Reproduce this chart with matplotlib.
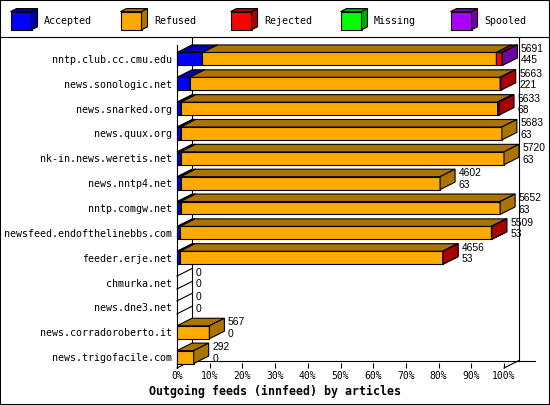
import numpy as np
import matplotlib
matplotlib.use('Agg')
import matplotlib.pyplot as plt
from matplotlib.patches import Polygon, Rectangle
from matplotlib.lines import Line2D
from matplotlib.transforms import IdentityTransform

# --- data (articles per outgoing feed) ---
hosts = ['nntp.club.cc.cmu.edu', 'news.sonologic.net', 'news.snarked.org',
         'news.quux.org', 'nk-in.news.weretis.net', 'news.nntp4.net',
         'nntp.comgw.net', 'newsfeed.endofthelinebbs.com', 'feeder.erje.net',
         'chmurka.net', 'news.dne3.net', 'news.corradoroberto.it',
         'news.trigofacile.com']
accepted = [445, 221, 68, 63, 63, 63, 63, 53, 53, 0, 0, 0, 0]
refused = [5143, 5432, 5540, 5620, 5657, 4539, 5589, 5448, 4598, 0, 0, 567, 292]
rejected = [98, 10, 25, 0, 0, 0, 0, 8, 5, 0, 0, 0, 0]
missing = [0, 0, 0, 0, 0, 0, 0, 0, 0, 0, 0, 0, 0]
spooled = [5, 0, 0, 0, 0, 0, 0, 0, 0, 0, 0, 0, 0]

series_names = ['Accepted', 'Refused', 'Rejected', 'Missing', 'Spooled']
face_colors = ['#0000ff', '#ffaa00', '#ff0000', '#00ff00', '#aa00ff']
shade_colors = ['#0000aa', '#aa7400', '#aa0000', '#00aa00', '#7400aa']

DX, DY = 15, 7.5           # depth of the 3d boxes, pixels
BAR_TOP, BAR_H = -0.2, 0.52
MONO = 'DejaVu Sans Mono'

series = np.array([accepted, refused, rejected, missing, spooled], dtype=float)
totals = series.sum(axis=0)
pct = series / totals.max() * 100
rows = np.arange(len(hosts))

fig = plt.figure(figsize=(5.5, 4.05), dpi=100)
ax = fig.add_axes([177/550, 1 - 368/405, 327/550, 323/405])
ax.set_xlim(0, 100)
ax.set_ylim(len(hosts) - 0.5, -0.5)


def px(x, y):
    return ax.transData.transform((x, y))


def poly(pts, fc, z=3):
    ax.add_patch(Polygon(pts, closed=True, transform=IdentityTransform(),
                         fc=fc, ec='black', lw=0.8, zorder=z, clip_on=False))


def line(p0, p1, z=1):
    ax.add_line(Line2D([p0[0], p1[0]], [p0[1], p1[1]], transform=IdentityTransform(),
                       color='black', lw=0.8, zorder=z, clip_on=False))


def box(x0, x1, y, fc, sc):
    lx, ty = px(x0, y + BAR_TOP)
    rx, by = px(x1, y + BAR_TOP + BAR_H)
    poly([(lx, by), (rx, by), (rx, ty), (lx, ty)], fc)
    poly([(lx, ty), (rx, ty), (rx + DX, ty + DY), (lx + DX, ty + DY)], sc)
    poly([(rx, by), (rx + DX, by + DY), (rx + DX, ty + DY), (rx, ty)], sc)


# back walls and floor
off = np.array([DX, DY])
line(px(0, -0.5) + off, px(0, len(hosts) - 0.5) + off)
line(px(100, -0.5) + off, px(100, len(hosts) - 0.5) + off)
line(px(0, len(hosts) - 0.5) + off, px(105, len(hosts) - 0.5) + off)
line(px(0, len(hosts) - 0.5), px(0, len(hosts) - 0.5) + off)
line(px(100, len(hosts) - 0.5), px(100, len(hosts) - 0.5) + off)

for i in rows:
    left = 0.0
    if totals[i] == 0:
        line(px(0, i + BAR_TOP), px(0, i + BAR_TOP) + off, z=3)
        line(px(0, i + BAR_TOP + BAR_H), px(0, i + BAR_TOP + BAR_H) + off, z=3)
    for k in range(len(series_names)):
        w = pct[k, i]
        if w <= 0:
            continue
        box(left, left + w, i, face_colors[k], shade_colors[k])
        left += w
    end = left
    ax.annotate(f'{int(totals[i])}', (end, i + BAR_TOP), xytext=(DX + 3.5, 3.5),
                textcoords='offset pixels', ha='left', va='center',
                family='Liberation Sans', fontsize=7.4, annotation_clip=False)
    ax.annotate(f'{accepted[i]}', (end, i + BAR_TOP), xytext=(DX + 3.5, -8),
                textcoords='offset pixels', ha='left', va='center',
                family='Liberation Sans', fontsize=7.4, annotation_clip=False)

# axes decoration
for s in ['top', 'right', 'bottom']:
    ax.spines[s].set_visible(False)
ax.spines['left'].set_linewidth(0.8)
ax.patch.set_alpha(0)
xt = np.arange(0, 101, 10)
ax.set_xticks(xt, [f'{t}%' for t in xt], family=MONO, fontsize=7)
ax.set_yticks(rows + 0.06, hosts, family=MONO, fontsize=7.2)
ax.tick_params(axis='x', direction='in', length=3.6, width=0.8, pad=2)
ax.tick_params(axis='y', length=0, pad=3.6)

fig.text(0.5, 1 - 391.5/405, 'Outgoing feeds (innfeed) by articles', ha='center',
         va='center', family=MONO, weight='bold', fontsize=8.4)

# legend strip
lax = fig.add_axes([0, 1 - 36.5/405, 1, 36.5/405])
lax.set_xlim(0, 550)
lax.set_ylim(36.5, 0)
lax.set_xticks([])
lax.set_yticks([])
for s in ['top', 'right', 'left']:
    lax.spines[s].set_visible(False)
lax.spines['bottom'].set_linewidth(0.8)
for k, name in enumerate(series_names):
    x0 = 10.5 + 110 * k
    lax.add_patch(Rectangle((x0, 11.6), 21, 18.2, fc=face_colors[k], ec='black', lw=0.8))
    lax.add_patch(Polygon([(x0, 11.6), (x0 + 21, 11.6), (x0 + 27, 8.6), (x0 + 6, 8.6)],
                          fc=shade_colors[k], ec='black', lw=0.8))
    lax.add_patch(Polygon([(x0 + 21, 29.8), (x0 + 27, 26.8), (x0 + 27, 8.6), (x0 + 21, 11.6)],
                          fc=shade_colors[k], ec='black', lw=0.8))
    lax.text(x0 + 33.5, 21, name, ha='left', va='center', family=MONO, fontsize=7.2)

fig.add_artist(Rectangle((0, 0), 1, 1, transform=fig.transFigure, fill=False,
                         ec='black', lw=1.5))

fig.savefig('out.png', dpi=100)
